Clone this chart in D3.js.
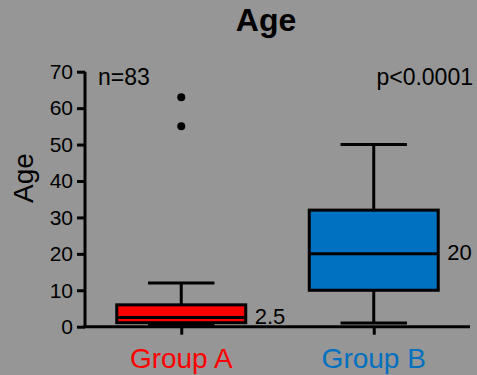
<!DOCTYPE html>
<html>
<head>
<meta charset="utf-8">
<script src="https://cdn.jsdelivr.net/npm/d3@7"></script>
<style>
  html, body { margin: 0; padding: 0; background: #969696; }
  svg { display: block; font-family: "Liberation Sans", Arial, Helvetica, sans-serif; }
</style>
</head>
<body>
<svg id="chart" width="477" height="375"></svg>
<script>
// Box-plot summaries per group
const groups = ["Group A", "Group B"];
const groupColors = ["#ff0000", "#0070c0"];
const whiskerLow = [0.5, 1];
const q1 = [1.1, 10];
const medians = [2.5, 20];
const q3 = [6, 32];
const whiskerHigh = [12, 50];
const outliersA = [55, 63];
const outliersB = [];
const medianLabels = ["2.5", "20"];
const yTicks = [0, 10, 20, 30, 40, 50, 60, 70];

const svg = d3.select("#chart");
const x = d3.scalePoint().domain(groups).range([85, 470]).padding(0.5);
const y = d3.scaleLinear().domain([0, 70]).range([326.7, 71.7]);
const step = x.step();
const boxW = step * 0.67;
const capW = step * 0.345;
const lw = 3;

// Title
svg.append("text").attr("x", 266).attr("y", 31).attr("text-anchor", "middle")
  .attr("font-size", 32).attr("font-weight", "bold").text("Age");

// Y axis
const yAxis = svg.append("g").attr("transform", "translate(85,0)")
  .call(d3.axisLeft(y).tickValues(yTicks).tickSize(8).tickPadding(4));
yAxis.select(".domain").attr("stroke", "#000").attr("stroke-width", lw)
  .attr("d", `M0,${y(70)}V${y(0)}`);
yAxis.selectAll(".tick line").attr("stroke", "#000").attr("stroke-width", lw);
yAxis.selectAll(".tick text").attr("font-size", 21).attr("fill", "#000")
  .attr("font-family", "Liberation Sans, Arial, sans-serif");

svg.append("text").attr("transform", `translate(33,178) rotate(-90)`)
  .attr("text-anchor", "middle").attr("font-size", 28).text("Age");

// X axis
const xAxis = svg.append("g").attr("transform", `translate(0,${y(0)})`)
  .call(d3.axisBottom(x).tickSize(8).tickFormat(""));
xAxis.select(".domain").attr("stroke", "#000").attr("stroke-width", lw)
  .attr("d", `M83.5,0H470`);
xAxis.selectAll(".tick line").attr("stroke", "#000").attr("stroke-width", lw);

svg.selectAll(".glabel").data(groups).join("text")
  .attr("class", "glabel")
  .attr("x", d => x(d)).attr("y", 368).attr("text-anchor", "middle")
  .attr("font-size", 28).attr("fill", (d, i) => groupColors[i]).text(d => d);

// Boxes
const stats = groups.map((g, i) => ({
  g, i, lo: whiskerLow[i], q1: q1[i], med: medians[i], q3: q3[i], hi: whiskerHigh[i]
}));
const bx = svg.selectAll(".box").data(stats).join("g").attr("class", "box");

bx.append("line").attr("x1", d => x(d.g)).attr("x2", d => x(d.g))
  .attr("y1", d => y(d.hi)).attr("y2", d => y(d.lo))
  .attr("stroke", "#000").attr("stroke-width", lw);
bx.append("line").attr("x1", d => x(d.g) - capW / 2).attr("x2", d => x(d.g) + capW / 2)
  .attr("y1", d => y(d.hi)).attr("y2", d => y(d.hi))
  .attr("stroke", "#000").attr("stroke-width", lw);
bx.append("line").attr("x1", d => x(d.g) - capW / 2).attr("x2", d => x(d.g) + capW / 2)
  .attr("y1", d => y(d.lo)).attr("y2", d => y(d.lo))
  .attr("stroke", "#000").attr("stroke-width", lw);
bx.append("rect").attr("x", d => x(d.g) - boxW / 2).attr("width", boxW)
  .attr("y", d => y(d.q3)).attr("height", d => y(d.q1) - y(d.q3))
  .attr("fill", d => groupColors[d.i]).attr("stroke", "#000").attr("stroke-width", lw);
bx.append("line").attr("x1", d => x(d.g) - boxW / 2).attr("x2", d => x(d.g) + boxW / 2)
  .attr("y1", d => y(d.med)).attr("y2", d => y(d.med))
  .attr("stroke", "#000").attr("stroke-width", lw);
bx.append("text").attr("x", d => x(d.g) + boxW / 2 + 9).attr("y", d => y(d.med))
  .attr("dy", "0.3em").attr("font-size", 22).text(d => medianLabels[d.i]);

// Outliers
const pts = outliersA.map(v => ({ g: groups[0], v })).concat(outliersB.map(v => ({ g: groups[1], v })));
svg.selectAll(".out").data(pts).join("circle").attr("class", "out")
  .attr("cx", d => x(d.g)).attr("cy", d => y(d.v)).attr("r", 4).attr("fill", "#000");

// Annotations
svg.append("text").attr("x", 98).attr("y", 85).attr("font-size", 23).text("n=83");
svg.append("text").attr("x", 473).attr("y", 85).attr("text-anchor", "end")
  .attr("font-size", 23).text("p<0.0001");
</script>
</body>
</html>
